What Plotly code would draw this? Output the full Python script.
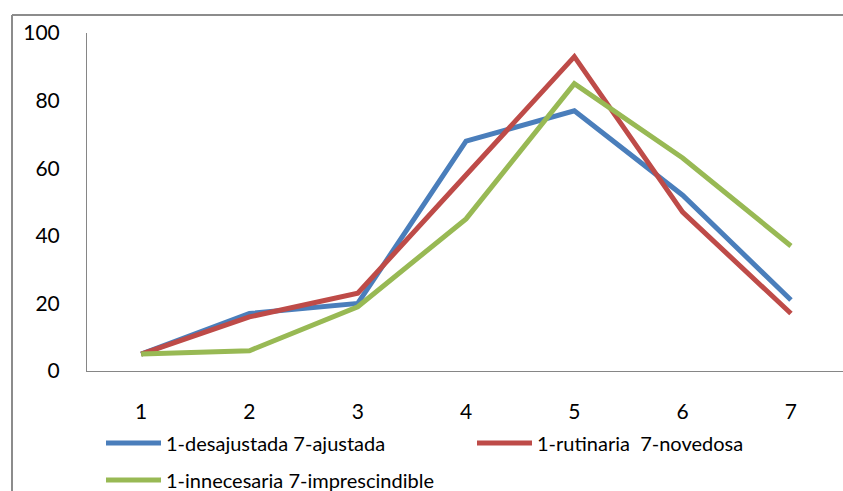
import plotly.graph_objects as go

categories = [1, 2, 3, 4, 5, 6, 7]
s_desajustada = [5, 17, 20, 68, 77, 52, 21]
s_rutinaria = [5, 16, 23, 58, 93, 47, 17]
s_innecesaria = [5, 6, 19, 45, 85, 63, 37]
names = ["1-desajustada 7-ajustada", "1-rutinaria  7-novedosa", "1-innecesaria 7-imprescindible"]
colors = ["#4A7EBB", "#BE4B48", "#98B954"]
y_ticks = [0, 20, 40, 60, 80, 100]

FONT = "Lato"
fig = go.Figure()
for vals, nm, col, lg in zip([s_desajustada, s_rutinaria, s_innecesaria], names, colors,
                             ["legend", "legend2", "legend3"]):
    fig.add_trace(go.Scatter(x=categories, y=vals, mode="lines", name=nm,
                             line=dict(color=col, width=5), legend=lg, showlegend=True))

W, H = 843, 491
L, T, B = 87, 33, 120
ph = H - T - B
pw = W - L
legfont = dict(size=20, family=FONT)
common = dict(orientation="v", xanchor="left", yanchor="middle", itemwidth=55,
              font=legfont, bgcolor="rgba(0,0,0,0)")
fig.update_layout(
    width=W, height=H,
    margin=dict(l=L, r=0, t=T, b=B, autoexpand=False),
    paper_bgcolor="white", plot_bgcolor="white",
    font=dict(family=FONT, color="black"),
    showlegend=True,
    xaxis=dict(range=[0.5, 0.5 + pw / 108.3], tickvals=categories, showgrid=False,
               showline=True, linecolor="#868686", linewidth=1, zeroline=False,
               ticks="outside", ticklen=22, tickcolor="rgba(0,0,0,0)",
               tickfont=dict(size=21, family=FONT)),
    yaxis=dict(range=[0, 100], tickvals=y_ticks, showgrid=False,
               showline=True, linecolor="#868686", linewidth=1, zeroline=False,
               ticks="outside", ticklen=22, tickcolor="rgba(0,0,0,0)",
               tickfont=dict(size=21, family=FONT)),
    legend=dict(x=(101 - L) / pw, y=(371 - 443) / ph, **common),
    legend2=dict(x=(472 - L) / pw, y=(371 - 443) / ph, **common),
    legend3=dict(x=(101 - L) / pw, y=(371 - 480) / ph, **common),
)
# chart area border (extends beyond the visible region)
bx = (12 - L) / pw
by = 1 + (T - 15) / ph
fig.add_shape(type="line", xref="paper", yref="paper", x0=bx, x1=bx, y0=by, y1=-1,
              line=dict(color="#8C8C8C", width=2))
fig.add_shape(type="line", xref="paper", yref="paper", x0=bx, x1=1.2, y0=by, y1=by,
              line=dict(color="#8C8C8C", width=2))
fig.write_html("out.html")
